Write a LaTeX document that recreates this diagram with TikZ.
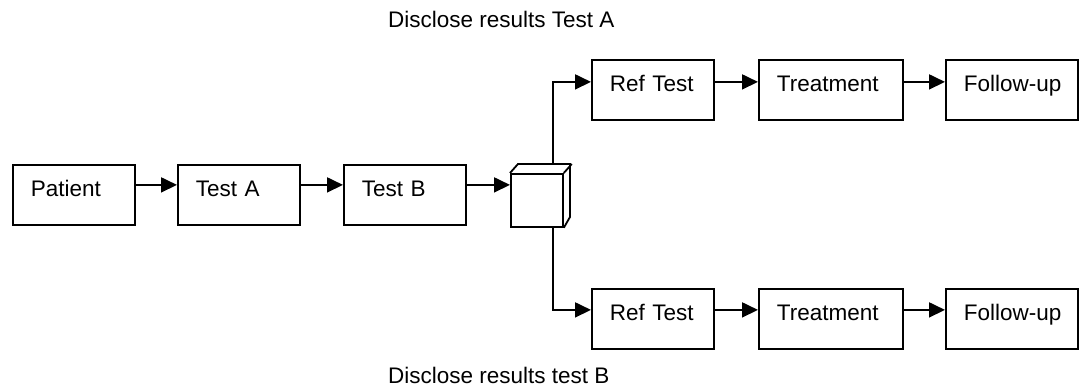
\documentclass[tikz,border=0pt]{standalone}
\usepackage{fontspec}
\setmainfont{Liberation Sans}
\usetikzlibrary{arrows.meta}
\tikzset{
    box/.style={draw, line width=1.8pt, anchor=north west, align=left,
        inner xsep=18pt, inner ysep=0pt, text height=32pt, text depth=28pt,
        text width=#1},
    box/.default=86pt,
    arr/.style={line width=1.8pt, -{Triangle[length=16pt,width=15pt]}},
    ln/.style={line width=1.8pt}
}
\begin{document}
\begin{tikzpicture}[x=1pt,y=1pt,font=\fontsize{22.5}{27}\selectfont]
    \useasboundingbox (0,0) rectangle (1080,-387);

    \node[box] (patient) at (12,-164) {Patient};
    \node[box] (testa) at (177,-164) {Test A};
    \node[box] (testb) at (343,-164) {Test B};
    \node[draw, ln, anchor=north west, minimum width=52pt, minimum height=53pt, inner sep=0pt] (hub) at (510,-173) {};

    \node[box] (ref1) at (591,-59) {Ref Test};
    \node[box=108pt] (treat1) at (758,-59) {Treatment};
    \node[box=96pt] (follow1) at (945,-59) {\mbox{Follow-up}};

    \node[box] (ref2) at (591,-288) {Ref Test};
    \node[box=108pt] (treat2) at (758,-288) {Treatment};
    \node[box=96pt] (follow2) at (945,-288) {\mbox{Follow-up}};

    \node[anchor=base west, inner sep=0pt] (discA) at (388,-28) {Disclose results Test A};
    \node[anchor=base west, inner sep=0pt] (discB) at (388,-384) {Disclose results test B};

    % cube depth
    \draw[ln, line join=miter] (hub.north west) -- ++(8,9) -- ++(52,0) -- ++(0,-53) -- (hub.south east);
    \draw[ln] (hub.north east) -- ++(8,9);
    \coordinate (hubup) at ([xshift=-11pt,yshift=9pt]hub.north east);
    \coordinate (hubdn) at ([xshift=-11pt]hub.south east);

    \draw[arr] ([yshift=12pt]patient.base east) -- ([yshift=12pt]testa.base west);
    \draw[arr] ([yshift=12pt]testa.base east) -- ([yshift=12pt]testb.base west);
    \draw[arr] ([yshift=12pt]testb.base east) coordinate (b1) -- (hub.west |- b1);

    \draw[arr] (hubup) |- ([yshift=10pt]ref1.base west);
    \draw[arr] (hubdn) |- ([yshift=11pt]ref2.base west);

    \draw[arr] ([yshift=10pt]ref1.base east) -- ([yshift=10pt]treat1.base west);
    \draw[arr] ([yshift=10pt]treat1.base east) -- ([yshift=10pt]follow1.base west);
    \draw[arr] ([yshift=11pt]ref2.base east) -- ([yshift=11pt]treat2.base west);
    \draw[arr] ([yshift=11pt]treat2.base east) -- ([yshift=11pt]follow2.base west);
\end{tikzpicture}
\end{document}
